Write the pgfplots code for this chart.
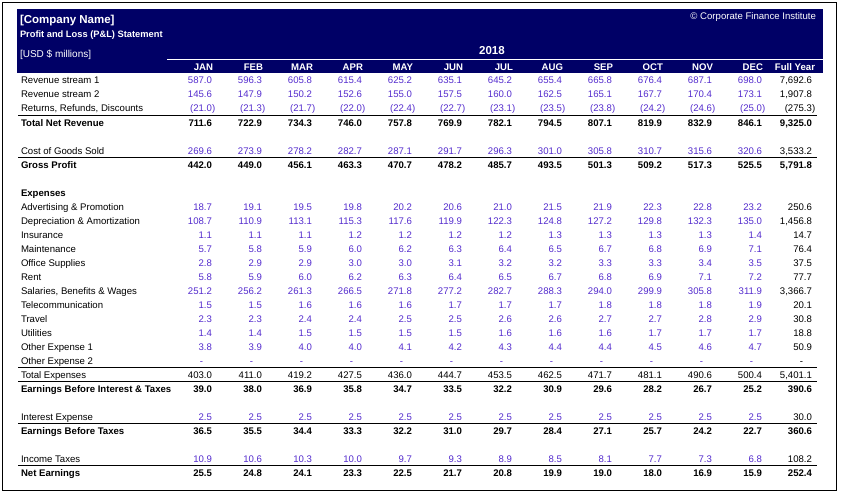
\documentclass[border=0pt]{standalone}
\usepackage{pgfplots}
\usepackage{pgfplotstable}
\pgfplotsset{compat=1.18}
\usepackage{fontspec}
\setmainfont{Liberation Sans}
\definecolor{navy}{RGB}{0,0,102}
\definecolor{vio}{RGB}{84,44,206}
\newcommand\fs{\fontsize{9.6}{11}\selectfont}

\pgfplotstableread{
key  jan feb mar apr may jun jul aug sep oct nov dec fy
x    212 262 312 362 412 462 512 562 612 662 712 762 812
rev1 587.0 596.3 605.8 615.4 625.2 635.1 645.2 655.4 665.8 676.4 687.1 698.0 7,692.6
rev2 145.6 147.9 150.2 152.6 155.0 157.5 160.0 162.5 165.1 167.7 170.4 173.1 1,907.8
ret (21.0) (21.3) (21.7) (22.0) (22.4) (22.7) (23.1) (23.5) (23.8) (24.2) (24.6) (25.0) (275.3)
tnr 711.6 722.9 734.3 746.0 757.8 769.9 782.1 794.5 807.1 819.9 832.9 846.1 9,325.0
cogs 269.6 273.9 278.2 282.7 287.1 291.7 296.3 301.0 305.8 310.7 315.6 320.6 3,533.2
gp 442.0 449.0 456.1 463.3 470.7 478.2 485.7 493.5 501.3 509.2 517.3 525.5 5,791.8
adv 18.7 19.1 19.5 19.8 20.2 20.6 21.0 21.5 21.9 22.3 22.8 23.2 250.6
dep 108.7 110.9 113.1 115.3 117.6 119.9 122.3 124.8 127.2 129.8 132.3 135.0 1,456.8
ins 1.1 1.1 1.1 1.2 1.2 1.2 1.2 1.3 1.3 1.3 1.3 1.4 14.7
mnt 5.7 5.8 5.9 6.0 6.2 6.3 6.4 6.5 6.7 6.8 6.9 7.1 76.4
off 2.8 2.9 2.9 3.0 3.0 3.1 3.2 3.2 3.3 3.3 3.4 3.5 37.5
rent 5.8 5.9 6.0 6.2 6.3 6.4 6.5 6.7 6.8 6.9 7.1 7.2 77.7
sal 251.2 256.2 261.3 266.5 271.8 277.2 282.7 288.3 294.0 299.9 305.8 311.9 3,366.7
tel 1.5 1.5 1.6 1.6 1.6 1.7 1.7 1.7 1.8 1.8 1.8 1.9 20.1
trv 2.3 2.3 2.4 2.4 2.5 2.5 2.6 2.6 2.7 2.7 2.8 2.9 30.8
utl 1.4 1.4 1.5 1.5 1.5 1.5 1.6 1.6 1.6 1.7 1.7 1.7 18.8
ot1 3.8 3.9 4.0 4.0 4.1 4.2 4.3 4.4 4.4 4.5 4.6 4.7 50.9
ot2 - - - - - - - - - - - - -
tex 403.0 411.0 419.2 427.5 436.0 444.7 453.5 462.5 471.7 481.1 490.6 500.4 5,401.1
ebit 39.0 38.0 36.9 35.8 34.7 33.5 32.2 30.9 29.6 28.2 26.7 25.2 390.6
int 2.5 2.5 2.5 2.5 2.5 2.5 2.5 2.5 2.5 2.5 2.5 2.5 30.0
ebt 36.5 35.5 34.4 33.3 32.2 31.0 29.7 28.4 27.1 25.7 24.2 22.7 360.6
tax 10.9 10.6 10.3 10.0 9.7 9.3 8.9 8.5 8.1 7.7 7.3 6.8 108.2
ne 25.5 24.8 24.1 23.3 22.5 21.7 20.8 19.9 19.0 18.0 16.9 15.9 252.4
}\orig
\pgfplotstabletranspose[colnames from=key]\data\orig

\pgfplotsset{
  cell/.style={draw=none, mark=none, nodes near coords, point meta=explicit symbolic,
    every node near coord/.append style={anchor=base east, inner sep=0pt, outer sep=0pt, font=\fs, text=#1}},
  cell/.default=black,
  lab/.style={draw=none, mark=none, nodes near coords, point meta=explicit symbolic,
    every node near coord/.append style={anchor=base west, inner sep=0pt, outer sep=0pt, font=\fs, text=#1}},
  lab/.default=black,
  bold/.style={every node near coord/.append style={font=\fs\bfseries}},
  rule/.style={black, line width=1pt, mark=none},
}
% #1 key, #2 baseline y, #3 month options, #4 full-year options, #5 month colour
\newcommand\rowv[5]{%
  \addplot[cell=#5, #3, skip coords between index={12}{13}] table[x=x, y expr=#2, meta=#1]\data;
  \addplot[cell=black, #4, skip coords between index={0}{12}] table[x=x, y expr=#2, meta=#1]\data;
}

\begin{document}
\begin{tikzpicture}
\begin{axis}[
  scale only axis, width=847pt, height=494pt,
  xmin=0, xmax=847, ymin=0, ymax=494, y dir=reverse,
  axis lines=none, clip=false,
]
% background and frame
\addplot[fill=white, draw=none, mark=none] coordinates {(0,0) (847,0) (847,494) (0,494)};
\addplot[black, line width=1pt, mark=none] coordinates {(2.5,2.5) (836,2.5) (836,491) (2.5,491) (2.5,2.5)};
\addplot[fill=navy, draw=none, mark=none] coordinates {(17,9) (823,9) (823,73) (17,73)};
\addplot[white, line width=1pt, mark=none] coordinates {(167,59.5) (823,59.5)};

% header texts
\addplot[lab=white, every node near coord/.append style={font=\fontsize{11.5}{13}\selectfont\bfseries}] coordinates {(20,24) [{[Company Name]}]};
\addplot[lab=white, every node near coord/.append style={font=\fontsize{9.3}{11}\selectfont\bfseries}] coordinates {(20,38) [{Profit and Loss (P\&L) Statement}]};
\addplot[lab=white, every node near coord/.append style={font=\fontsize{10}{12}\selectfont}] coordinates {(20,58) [{[USD \$ millions]}]};
\addplot[lab=white, every node near coord/.append style={anchor=base, font=\fontsize{11.5}{13}\selectfont\bfseries}] coordinates {(492,55) [2018]};
\addplot[cell=white, every node near coord/.append style={font=\fontsize{9.6}{11}\selectfont}] coordinates {(816,19.5) [{\textcopyright\ Corporate Finance Institute}]};
\addplot[cell=white, bold] coordinates {(213,71) [JAN] (263,71) [FEB] (313,71) [MAR] (363,71) [APR] (413,71) [MAY] (463,71) [JUN] (513,71) [JUL] (563,71) [AUG] (613,71) [SEP] (663,71) [OCT] (713,71) [NOV] (763,71) [DEC] (815,71) [{Full Year}]};

% rules
\addplot[rule] coordinates {(18,116) (817,116)};
\addplot[rule] coordinates {(18,158) (817,158)};
\addplot[rule] coordinates {(18,368) (817,368)};
\addplot[rule] coordinates {(18,382) (817,382)};
\addplot[rule] coordinates {(18,424) (817,424)};
\addplot[rule] coordinates {(18,466) (817,466)};

% row labels
\addplot[lab] coordinates {
 (21,84) [{Revenue stream 1}]
 (21,98) [{Revenue stream 2}]
 (21,112) [{Returns, Refunds, Discounts}]
 (21,155) [{Cost of Goods Sold}]
 (21,211) [{Advertising \& Promotion}]
 (21,225) [{Depreciation \& Amortization}]
 (21,239) [{Insurance}]
 (21,253) [{Maintenance}]
 (21,267) [{Office Supplies}]
 (21,281) [{Rent}]
 (21,295) [{Salaries, Benefits \& Wages}]
 (21,309) [{Telecommunication}]
 (21,323) [{Travel}]
 (21,337) [{Utilities}]
 (21,351) [{Other Expense 1}]
 (21,365) [{Other Expense 2}]
 (21,379) [{Total Expenses}]
 (21,421) [{Interest Expense}]
 (21,463) [{Income Taxes}]
};
\addplot[lab, bold] coordinates {
 (21,127) [{Total Net Revenue}]
 (21,169) [{Gross Profit}]
 (21,197) [{Expenses}]
 (21,393) [{Earnings Before Interest \& Taxes}]
 (21,435) [{Earnings Before Taxes}]
 (21,477) [{Net Earnings}]
};

% values
\rowv{rev1}{84}{}{}{vio}
\rowv{rev2}{98}{}{}{vio}
\rowv{ret}{112}{every node near coord/.append style={xshift=3.2pt}}{every node near coord/.append style={xshift=3.2pt}}{vio}
\rowv{tnr}{127}{bold}{bold}{black}
\rowv{cogs}{155}{}{}{vio}
\rowv{gp}{169}{bold}{bold}{black}
\rowv{adv}{211}{}{}{vio}
\rowv{dep}{225}{}{}{vio}
\rowv{ins}{239}{}{}{vio}
\rowv{mnt}{253}{}{}{vio}
\rowv{off}{267}{}{}{vio}
\rowv{rent}{281}{}{}{vio}
\rowv{sal}{295}{}{}{vio}
\rowv{tel}{309}{}{}{vio}
\rowv{trv}{323}{}{}{vio}
\rowv{utl}{337}{}{}{vio}
\rowv{ot1}{351}{}{}{vio}
\rowv{ot2}{365}{every node near coord/.append style={xshift=-9pt}}{every node near coord/.append style={xshift=-9pt}}{vio}
\rowv{tex}{379}{}{}{black}
\rowv{ebit}{393}{bold}{bold}{black}
\rowv{int}{421}{}{}{vio}
\rowv{ebt}{435}{bold}{bold}{black}
\rowv{tax}{463}{}{}{vio}
\rowv{ne}{477}{bold}{bold}{black}
\end{axis}
\end{tikzpicture}
\end{document}
